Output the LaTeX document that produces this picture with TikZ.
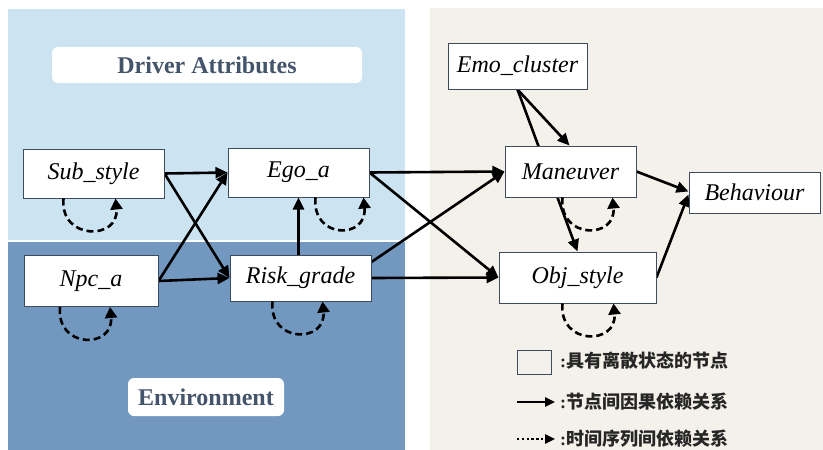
\documentclass[tikz,border=0pt]{standalone}
\usepackage{fontspec}
\setmainfont{Liberation Serif}
\newfontfamily\cjk{Noto Sans CJK SC}
\usetikzlibrary{arrows.meta,calc}

\definecolor{panelA}{HTML}{CCE3F1}
\definecolor{panelB}{HTML}{7298C0}
\definecolor{panelC}{HTML}{F4F1EA}
\definecolor{labeltext}{HTML}{44546A}
\definecolor{boxline}{HTML}{3E4B5C}

\pgfdeclarelayer{bg}
\pgfdeclarelayer{edges}
\pgfsetlayers{bg,edges,main}

\tikzset{
  var/.style={draw=boxline, line width=1pt, fill=white, inner sep=0pt,
    font=\fontsize{24}{27}\selectfont\itshape},
  groupname/.style={fill=white, rounded corners=6pt, inner sep=0pt,
    text=labeltext, font=\fontsize{24}{27}\selectfont\bfseries},
  causal/.style={line width=2.6pt, -{Triangle[length=12pt,width=11pt]}},
  temporal/.style={line width=2.6pt, dash pattern=on 7pt off 4pt,
    -{Triangle[length=11pt,width=12pt]}},
  legendtext/.style={anchor=west, inner sep=0pt, text=black!85,
    font=\fontsize{18}{21}\selectfont\bfseries},
}

\newcommand{\selfloop}[3]{%
  \draw[temporal] ($(#1.south)+(#2,0)$)
    .. controls +(-4,42) and +(4,42) .. ($(#1.south)+(#3,0)$);}

\begin{document}
\begin{tikzpicture}[x=1pt,y=-1pt]
\useasboundingbox (0,0) rectangle (823,450);

% background regions
\begin{pgfonlayer}{bg}
  \fill[white] (0,0) rectangle (823,450);
  \fill[panelA] (8,9) rectangle (405,240);
  \fill[panelB] (8,242) rectangle (405,450);
  \fill[panelC] (430,8) rectangle (823,450);
\end{pgfonlayer}

% group titles
\node[groupname, minimum width=310pt, minimum height=36pt] (drv) at (207,65) {Driver Attributes};
\node[groupname, minimum width=156pt, minimum height=38pt] (env) at (206,397) {Environment};

% variables
\node[var, minimum width=141pt, minimum height=49pt] (sub) at (93.5,173.5) {Sub\_style};
\node[var, minimum width=141pt, minimum height=49pt] (ego) at (298.5,172.5) {Ego\_a};
\node[var, minimum width=134pt, minimum height=51pt] (npc) at (91,281) {Npc\_a};
\node[var, minimum width=141pt, minimum height=46pt] (risk) at (300.5,278) {Risk\_grade};
\node[var, minimum width=139pt, minimum height=46pt] (emo) at (517.5,66) {Emo\_cluster};
\node[var, minimum width=131pt, minimum height=51pt] (man) at (570.5,171.5) {Maneuver};
\node[var, minimum width=131pt, minimum height=41pt] (beh) at (754.5,192.5) {Behaviour};
\node[var, minimum width=157pt, minimum height=51pt] (obj) at (577.5,277.5) {Obj\_style};

% causal dependencies
\begin{pgfonlayer}{edges}
  \draw[causal] (sub.east) -- (ego.west);
  \draw[causal] (sub.east) -- (risk.west);
  \draw[causal] (npc.east) -- (ego.west);
  \draw[causal] (npc.east) -- (risk.west);
  \draw[causal] (ego.south |- risk.north) -- (ego.south);
  \draw[causal] (ego.east) -- (man.west);
  \draw[causal] (ego.east) -- (obj.west);
  \draw[causal] ($(risk.east)+(0,-16)$) -- (man.west);
  \draw[causal] (risk.east) -- (obj.west);
  \draw[causal] (emo.south) -- ($(man.north)+(-1,0)$);
  \draw[causal] (emo.south) -- (obj.north);
  \draw[causal] (man.east) -- ($(beh.west)+(0,-1)$);
  \draw[causal] (obj.east) -- ($(beh.west)+(0,2)$);
\end{pgfonlayer}

% temporal self-dependencies
\selfloop{sub}{-30}{22}
\selfloop{ego}{17}{65}
\selfloop{npc}{-31}{19}
\selfloop{risk}{-28}{22}
\selfloop{man}{-8}{42}
\selfloop{obj}{-15}{36}

% legend
\node[draw=boxline, line width=1pt, fill=panelC, minimum width=34pt, minimum height=24pt, inner sep=0pt] (lgbox) at (534,362) {};
\node[legendtext] (lgboxtxt) at (560,361) {:{\cjk 具有离散状态的节点}};
\coordinate (lgA1) at (517,402);
\coordinate (lgA2) at (555,402);
\draw[line width=2.4pt, -{Triangle[length=10pt,width=9pt]}] (lgA1) -- (lgA2);
\node[legendtext] (lgarrtxt) at (560,402) {:{\cjk 节点间因果依赖关系}};
\coordinate (lgD1) at (517,439);
\coordinate (lgD2) at (555,439);
\draw[line width=2.4pt, dash pattern=on 2.4pt off 2.4pt, -{Triangle[length=10pt,width=9pt]}] (lgD1) -- (lgD2);
\node[legendtext] (lgdottxt) at (560,439) {:{\cjk 时间序列间依赖关系}};
\end{tikzpicture}
\end{document}
